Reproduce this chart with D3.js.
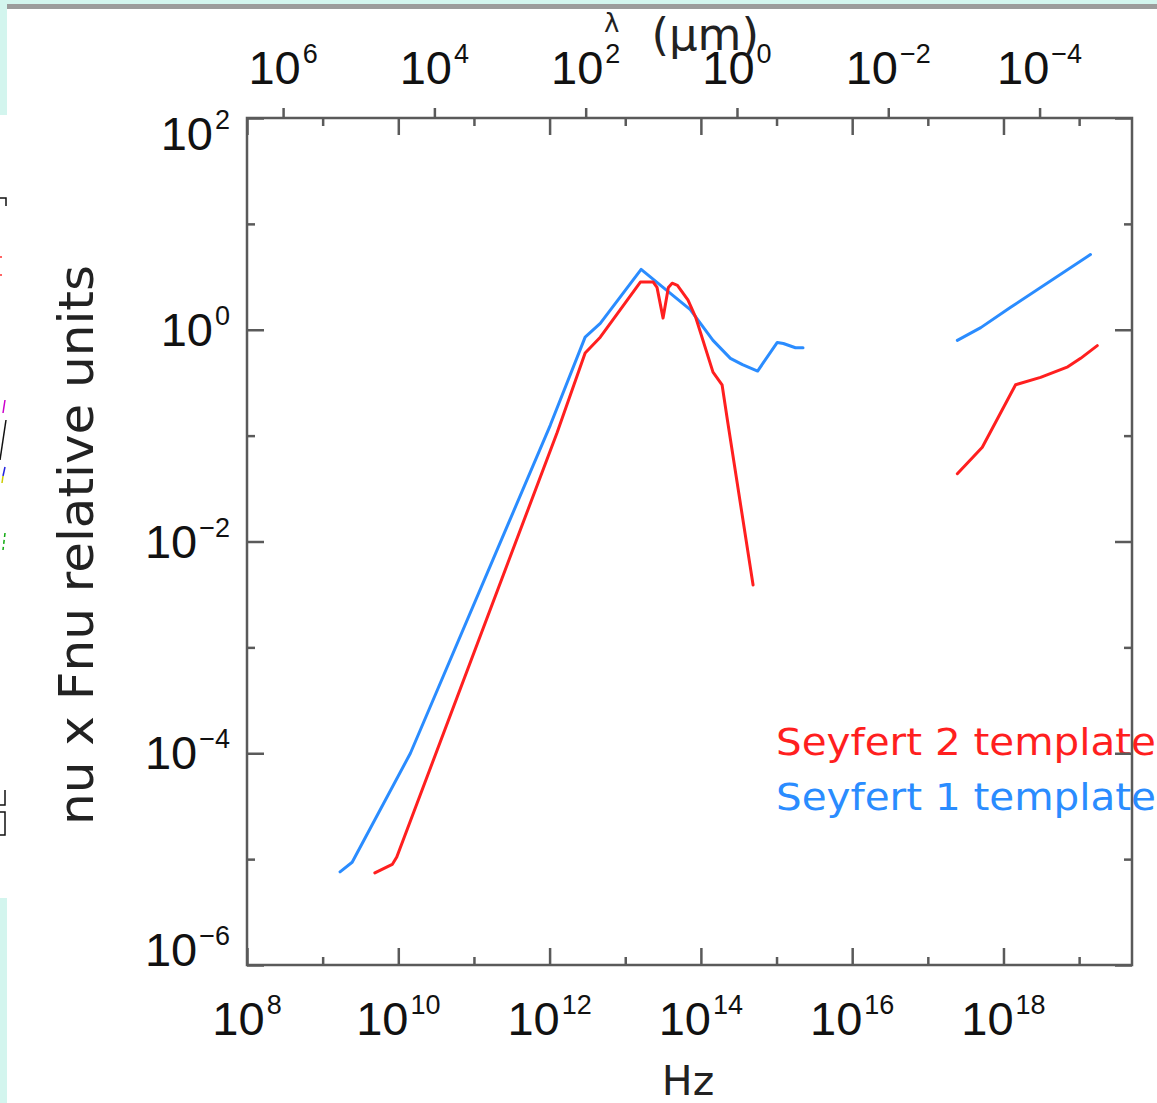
<!DOCTYPE html>
<html>
<head>
<meta charset="utf-8">
<script src="https://cdn.jsdelivr.net/npm/d3@7"></script>
<style>
  html, body { margin: 0; padding: 0; background: #fff; }
  svg { display: block; }
</style>
</head>
<body>
<svg id="chart" width="1157" height="1103"></svg>
<script>
// Seyfert 1 / Seyfert 2 SED templates, log10(nu [Hz]) and log10(nu Fnu), null = gap
const sy1LogNu = [9.23, 9.39, 10.16, 12.01, 12.47, 12.67, 13.21, 13.50, 13.86, 14.16, 14.39, 14.55, 14.75, 15.01, 15.09, 15.25, 15.35, null, 17.39, 17.70, 18.09, 19.15];
const sy1LogF  = [-5.12, -5.03, -4.00, -0.90, -0.07, 0.06, 0.57, 0.40, 0.19, -0.10, -0.27, -0.33, -0.39, -0.12, -0.13, -0.17, -0.17, null, -0.10, 0.02, 0.21, 0.71];

const sy2LogNu = [9.69, 9.92, 9.98, 12.10, 12.47, 12.67, 13.20, 13.37, 13.42, 13.50, 13.57, 13.62, 13.69, 13.83, 13.93, 14.16, 14.28, 14.35, 14.69, null, 17.39, 17.72, 18.16, 18.49, 18.85, 19.02, 19.24];
const sy2LogF  = [-5.13, -5.05, -4.98, -0.97, -0.22, -0.07, 0.45, 0.45, 0.40, 0.11, 0.40, 0.44, 0.42, 0.28, 0.12, -0.40, -0.52, -0.85, -2.41, null, -1.36, -1.11, -0.52, -0.45, -0.35, -0.27, -0.15];

const freqDecades = [8, 9, 10, 11, 12, 13, 14, 15, 16, 17, 18, 19];
const freqLabelDecades = [8, 10, 12, 14, 16, 18];
const fluxDecades = [-6, -5, -4, -3, -2, -1, 0, 1, 2];
const fluxLabelDecades = [-6, -4, -2, 0, 2];
const lambdaLabelDecades = [6, 4, 2, 0, -2, -4];

const legendLabels = ["Seyfert 2 template", "Seyfert 1 template"];
const seriesColors = ["#ff1f1f", "#2a8cff"];

const C_MICRON = 3e14; // speed of light in micron/s

(function () {
const svg = d3.select("#chart");
const W = 1157, H = 1103;
const pLeft = 247, pRight = 1132, pTop = 118, pBottom = 965;

const x = d3.scaleLog().domain([1e8, 5e19]).range([pLeft, pRight]);
const y = d3.scaleLog().domain([1e-6, 1e2]).range([pBottom, pTop]);
const xLam = d3.scaleLog().domain([C_MICRON / 1e8, C_MICRON / 5e19]).range([pLeft, pRight]);

const axisColor = "#5a5a5a";
const numFont = "'Liberation Sans', Arial, sans-serif";
const textFont = "'DejaVu Sans', sans-serif";

// page edge: tinted strips and rule from the surrounding page
const edge = svg.append("g");
edge.append("rect").attr("x", 0).attr("y", 0).attr("width", W).attr("height", 4).attr("fill", "#d3f5ee");
edge.append("rect").attr("x", 0).attr("y", 0).attr("width", 7).attr("height", 115).attr("fill", "#d3f5ee");
edge.append("rect").attr("x", 0).attr("y", 898).attr("width", 7).attr("height", H - 898).attr("fill", "#d3f5ee");
edge.append("rect").attr("x", 7).attr("y", 4).attr("width", W - 7).attr("height", 5).attr("fill", "#9c9c9c");
// clipped bits of the neighbouring panel
edge.append("path").attr("d", "M0,198H6V206").attr("fill", "none").attr("stroke", "#111").attr("stroke-width", 1.5);
edge.append("path").attr("d", "M0,257h2M0,275h2").attr("stroke", "#f33").attr("stroke-width", 1.5);
edge.append("path").attr("d", "M5,400L3,413").attr("stroke", "#c0c").attr("stroke-width", 1.5);
edge.append("path").attr("d", "M0,460L6,420").attr("stroke", "#111").attr("stroke-width", 1.5);
edge.append("path").attr("d", "M5,467L3,476").attr("stroke", "#22d").attr("stroke-width", 1.5);
edge.append("path").attr("d", "M3,476L2,483").attr("stroke", "#cc0").attr("stroke-width", 1.5);
edge.append("path").attr("d", "M5,533L3,550").attr("stroke", "#1a1").attr("stroke-width", 1.5).attr("stroke-dasharray", "4,3");
edge.append("path").attr("d", "M5,790V805H0M0,812H5V835H0").attr("fill", "none").attr("stroke", "#111").attr("stroke-width", 1.5);

// legend text (sits under the right frame line)
const legend = svg.append("g");
legendLabels.forEach((lab, i) => {
  legend.append("text")
    .attr("x", 776).attr("y", 755 + i * 55)
    .attr("font-family", textFont).attr("font-size", 38)
    .attr("textLength", 380).attr("lengthAdjust", "spacingAndGlyphs")
    .attr("fill", seriesColors[i])
    .text(lab);
});

// curves
function seriesPoints(lx, ly) {
  return lx.map((v, i) => (v === null ? null : [Math.pow(10, v), Math.pow(10, ly[i])]));
}
const line = d3.line()
  .defined(d => d !== null)
  .x(d => x(d[0]))
  .y(d => y(d[1]));

const curves = [seriesPoints(sy2LogNu, sy2LogF), seriesPoints(sy1LogNu, sy1LogF)];
// blue drawn first, red on top around the peak
[1, 0].forEach(i => {
  svg.append("path")
    .attr("d", line(curves[i]))
    .attr("fill", "none")
    .attr("stroke", seriesColors[i])
    .attr("stroke-width", 3)
    .attr("stroke-linejoin", "round")
    .attr("stroke-linecap", "round");
});

// axes
const pow10 = e => Math.pow(10, e);
function styleAxis(g) {
  g.select(".domain").remove();
  g.selectAll(".tick line").attr("stroke", axisColor).attr("stroke-width", 2.5);
  g.selectAll(".tick text").remove();
}
const majorX = freqDecades.filter(d => d % 2 === 0).map(pow10);
const minorX = freqDecades.filter(d => d % 2 !== 0).map(pow10);
const majorY = fluxDecades.filter(d => d % 2 === 0).map(pow10);
const minorY = fluxDecades.filter(d => d % 2 !== 0).map(pow10);

[[majorX, 17], [minorX, 8]].forEach(([vals, len]) => {
  svg.append("g").attr("transform", `translate(0,${pBottom})`)
    .call(d3.axisBottom(x).tickValues(vals).tickSize(-len).tickFormat(() => "")).call(styleAxis);
  svg.append("g").attr("transform", `translate(0,${pTop})`)
    .call(d3.axisTop(x).tickValues(vals).tickSize(-len).tickFormat(() => "")).call(styleAxis);
});
[[majorY, 17], [minorY, 8]].forEach(([vals, len]) => {
  svg.append("g").attr("transform", `translate(${pLeft},0)`)
    .call(d3.axisLeft(y).tickValues(vals).tickSize(-len).tickFormat(() => "")).call(styleAxis);
  svg.append("g").attr("transform", `translate(${pRight},0)`)
    .call(d3.axisRight(y).tickValues(vals).tickSize(-len).tickFormat(() => "")).call(styleAxis);
});
// wavelength ticks above the frame
svg.append("g").attr("transform", `translate(0,${pTop})`)
  .call(d3.axisTop(xLam).tickValues(lambdaLabelDecades.map(pow10)).tickSize(10).tickFormat(() => ""))
  .call(styleAxis);

// frame
svg.append("rect")
  .attr("x", pLeft).attr("y", pTop).attr("width", pRight - pLeft).attr("height", pBottom - pTop)
  .attr("fill", "none").attr("stroke", axisColor).attr("stroke-width", 2.5);

// power-of-ten labels
function powLabel(g, px, py, exp, anchor) {
  const t = g.append("text")
    .attr("x", px).attr("y", py)
    .attr("text-anchor", anchor)
    .attr("font-family", numFont).attr("font-size", 47).attr("fill", "#111");
  t.append("tspan").text("10");
  t.append("tspan").attr("dy", -21).attr("dx", 2).attr("font-size", 27)
    .text(String(exp).replace("-", "\u2212"));
}
const labels = svg.append("g");
freqLabelDecades.forEach(e => powLabel(labels, x(pow10(e)), 1035, e, "middle"));
lambdaLabelDecades.forEach(e => powLabel(labels, xLam(pow10(e)), 84, e, "middle"));
fluxLabelDecades.forEach(e => {
  const base = Math.min(Math.max(y(pow10(e)) + 16, pTop + 32), pBottom + 1);
  powLabel(labels, pLeft - 17, base, e, "end");
});

// axis titles
svg.append("text")
  .attr("x", 688).attr("y", 1095).attr("text-anchor", "middle")
  .attr("font-family", textFont).attr("font-size", 41).attr("fill", "#222")
  .text("Hz");

const lamTitle = svg.append("text")
  .attr("x", 604).attr("y", 50)
  .attr("font-family", textFont).attr("fill", "#222");
lamTitle.append("tspan").attr("font-size", 26).attr("dy", -18).text("\u03bb");
lamTitle.append("tspan").attr("font-size", 45).attr("dy", 18).attr("dx", 32).text("(\u03bcm)");

svg.append("text")
  .attr("transform", "translate(93,545) rotate(-90)")
  .attr("text-anchor", "middle")
  .attr("font-family", textFont).attr("font-size", 48).attr("fill", "#222")
  .attr("textLength", 560).attr("lengthAdjust", "spacingAndGlyphs")
  .text("nu x Fnu relative units");
})();
</script>
</body>
</html>
